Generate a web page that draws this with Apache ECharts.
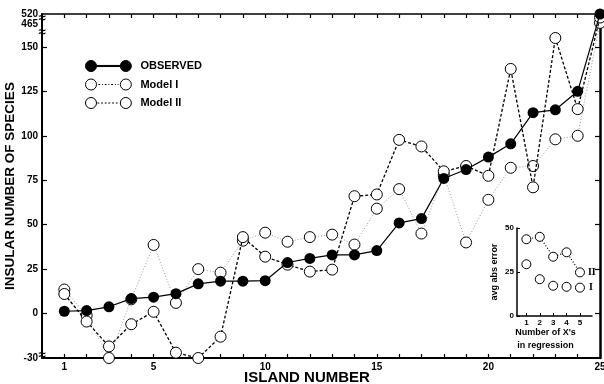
<!DOCTYPE html>
<html>
<head>
<meta charset="utf-8">
<script src="https://cdn.jsdelivr.net/npm/echarts@6/dist/echarts.min.js"></script>
<style>
  html, body { margin: 0; padding: 0; background: #fff; }
  #chart { width: 604px; height: 384px; }
</style>
</head>
<body>
<div id="chart"></div>
<script>
// data
const islands = [1,2,3,4,5,6,7,8,9,10,11,12,13,14,15,16,17,18,19,20,21,22,23,24,25];
const observed = [1.3, 1.7, 3.8, 8.4, 9.2, 11.2, 16.7, 18.2, 18.2, 18.5, 28.7, 31, 33, 33, 35.4, 51, 53.4, 76, 81, 88, 95.5, 113, 114.6, 125, 520];
const modelI = [13.5, -1, -30, 8, 38.6, 6, 25, 23, 41, 45.5, 40.4, 43, 44.4, 38.8, 59, 70, 45, 78, 40, 64, 82, 83, 98, 100, 470];
const modelII = [11, -4.5, -18.5, -6, 1, -22, -30, -13, 43, 32, 27.5, 23.6, 24.7, 66, 67, 97.7, 94, 80, 83, 77.5, 137.6, 71, 155, 115, 500];

const yTickLabels = [-30, 0, 25, 50, 75, 100, 125, 150, 465];
const yTopLabel = 520;
const xTickLabels = [1, 5, 10, 15, 20, 25];

// inset: avg abs error vs number of X's in regression
const insetX = [1, 2, 3, 4, 5];
const insetModelI = [29.4, 20.9, 17.2, 16.6, 16.1];
const insetModelII = [43.6, 45, 33.7, 36.2, 24.8];
const insetYTicks = [0, 25, 50];

// broken axis: -30 sits on the bottom, 465..520 squeezed above 150
function toAxis(v) {
    if (v <= -25) return -25;
    if (v >= 465) return 163 + (v - 465) * 0.1;
    return v;
}
const yTickPos = yTickLabels.map(toAxis);
function yLabel(p) {
    const i = yTickPos.findIndex(q => Math.abs(q - p) < 0.01);
    return i < 0 ? '' : String(yTickLabels[i]);
}

const FONT = 'Liberation Sans';
const pairs = arr => arr.map((v, i) => [islands[i], toAxis(v)]);

const ring = 'M0,6a6,6 0 1,0 12,0a6,6 0 1,0 -12,0Z M38,6a6,6 0 1,0 12,0a6,6 0 1,0 -12,0Z';
const iconObs = 'path://' + ring + ' M12,5.4h26v1.2h-26Z';
const iconM1 = 'path://' + ring + ' M14,6h2M18,6h1M21,6h2M25,6h1M28,6h2M32,6h1M35,6h1';
const iconM2 = 'path://' + ring + ' M13,6h2M17,6h2M21,6h2M25,6h2M29,6h2M33,6h2';

const chart = echarts.init(document.getElementById('chart'));

const labelStyle = { fontSize: 10, fontWeight: 'bold', margin: 4, color: '#000' };

chart.setOption({
    animation: false,
    backgroundColor: '#fff',
    textStyle: { fontFamily: FONT, color: '#000' },
    grid: [
        { left: 42, right: 4, top: 14, bottom: 26, outerBoundsMode: 'none' },
        { left: 517, top: 228, width: 75, height: 88, outerBoundsMode: 'none' }
    ],
    legend: {
        left: 80, top: 55, orient: 'vertical',
        itemWidth: 46, itemHeight: 11, itemGap: 6.5,
        selectedMode: false,
        textStyle: { fontFamily: FONT, fontWeight: 'bold', fontSize: 11, color: '#000', padding: [0, 0, 0, 4] },
        data: [
            { name: 'OBSERVED', icon: iconObs, itemStyle: { color: '#000', borderColor: '#000', borderWidth: 1 } },
            { name: 'Model I', icon: iconM1, itemStyle: { color: '#fff', borderColor: '#000', borderWidth: 1 } },
            { name: 'Model II', icon: iconM2, itemStyle: { color: '#fff', borderColor: '#000', borderWidth: 1 } }
        ]
    },
    xAxis: [
        {
            type: 'value', gridIndex: 0, min: 0, max: 25,
            name: 'ISLAND NUMBER', nameLocation: 'middle', nameGap: 12, nameMoveOverlap: false,
            nameTextStyle: { fontWeight: 'bold', fontSize: 15, padding: [0, 28, 0, 0] },
            axisLine: { onZero: false, lineStyle: { color: '#000', width: 2 } },
            axisTick: { inside: true, length: 4, customValues: islands, lineStyle: { color: '#000', width: 1.2 } },
            axisLabel: Object.assign({ customValues: xTickLabels }, labelStyle),
            splitLine: { show: false }
        },
        {
            type: 'value', gridIndex: 0, min: 0, max: 25, position: 'top',
            axisLine: { onZero: false, lineStyle: { color: '#000', width: 1.5 } },
            axisTick: { inside: true, length: 4, customValues: islands, lineStyle: { color: '#000', width: 1.2 } },
            axisLabel: { show: false },
            splitLine: { show: false }
        },
        {
            type: 'value', gridIndex: 1, min: 0.3, max: 5.9,
            name: "Number of X's\nin regression", nameLocation: 'middle', nameGap: 10, nameMoveOverlap: false,
            nameTextStyle: { fontWeight: 'bold', fontSize: 9, lineHeight: 13, padding: [0, 18, 0, 0] },
            axisLine: { onZero: false, lineStyle: { color: '#000', width: 1.5 } },
            axisTick: { inside: true, length: 3, customValues: insetX, lineStyle: { color: '#000' } },
            axisLabel: { customValues: insetX, fontSize: 8, fontWeight: 'bold', margin: 3, color: '#000' },
            splitLine: { show: false }
        }
    ],
    yAxis: [
        {
            type: 'value', gridIndex: 0, min: -25, max: 168.5,
            name: 'INSULAR NUMBER OF SPECIES', nameLocation: 'middle', nameGap: 25, nameRotate: 90, nameMoveOverlap: false,
            nameTextStyle: { fontWeight: 'bold', fontSize: 13.5 },
            axisLine: { onZero: false, lineStyle: { color: '#000', width: 2 } },
            axisTick: { inside: true, length: 5, customValues: yTickPos.slice(1, 8), lineStyle: { color: '#000', width: 1.2 } },
            axisLabel: Object.assign({ customValues: yTickPos, formatter: yLabel, showMinLabel: true, showMaxLabel: true }, labelStyle),
            splitLine: { show: false }
        },
        {
            type: 'value', gridIndex: 0, min: -25, max: 168.5, position: 'right',
            axisLine: { onZero: false, lineStyle: { color: '#000', width: 2.5 } },
            axisTick: { inside: true, length: 5, customValues: yTickPos.slice(1, 8), lineStyle: { color: '#000', width: 1.2 } },
            axisLabel: { show: false },
            splitLine: { show: false }
        },
        {
            type: 'value', gridIndex: 1, min: 0, max: 50,
            name: 'avg abs error', nameLocation: 'middle', nameGap: 18, nameRotate: 90, nameMoveOverlap: false,
            nameTextStyle: { fontWeight: 'bold', fontSize: 9 },
            axisLine: { onZero: false, lineStyle: { color: '#000', width: 1.5 } },
            axisTick: { inside: true, length: 3, customValues: insetYTicks, lineStyle: { color: '#000' } },
            axisLabel: { customValues: insetYTicks, fontSize: 8, fontWeight: 'bold', margin: 3, color: '#000' },
            splitLine: { show: false }
        },
        {
            // carries only the top "520" label, which would otherwise collide with 465
            type: 'value', gridIndex: 0, min: -25, max: 168.5, position: 'left',
            axisLine: { show: false }, axisTick: { show: false },
            axisLabel: Object.assign({ customValues: [toAxis(yTopLabel)], formatter: () => String(yTopLabel), showMaxLabel: true }, labelStyle),
            splitLine: { show: false }
        }
    ],
    series: [
        {
            name: 'Model I', type: 'line', xAxisIndex: 0, yAxisIndex: 0,
            data: pairs(modelI), clip: false,
            symbol: 'circle', symbolSize: 11,
            itemStyle: { color: '#fff', borderColor: '#000', borderWidth: 1 },
            lineStyle: { color: '#999', width: 1, type: [1, 2] },
            z: 2
        },
        {
            name: 'Model II', type: 'line', xAxisIndex: 0, yAxisIndex: 0,
            data: pairs(modelII), clip: false,
            symbol: 'circle', symbolSize: 11,
            itemStyle: { color: '#fff', borderColor: '#000', borderWidth: 1 },
            lineStyle: { color: '#000', width: 1.3, type: [3, 2] },
            z: 3
        },
        {
            name: 'OBSERVED', type: 'line', xAxisIndex: 0, yAxisIndex: 0,
            data: pairs(observed), clip: false,
            symbol: 'circle', symbolSize: 11,
            itemStyle: { color: '#000' },
            lineStyle: { color: '#000', width: 1.2 },
            z: 4
        },
        {
            name: 'inset I', type: 'line', xAxisIndex: 2, yAxisIndex: 2,
            data: insetModelI.map((v, i) => [insetX[i], v]), clip: false,
            symbol: 'circle', symbolSize: 9,
            itemStyle: { color: '#fff', borderColor: '#000', borderWidth: 1 },
            lineStyle: { width: 0 },
            label: {
                show: true, position: 'right', distance: 4,
                formatter: p => p.dataIndex === insetX.length - 1 ? 'I' : '',
                fontFamily: 'Liberation Serif', fontWeight: 'bold', fontSize: 10, color: '#000'
            }
        },
        {
            name: 'inset II', type: 'line', xAxisIndex: 2, yAxisIndex: 2,
            data: insetModelII.map((v, i) => [insetX[i], v]), clip: false,
            symbol: 'circle', symbolSize: 9,
            itemStyle: { color: '#fff', borderColor: '#000', borderWidth: 1 },
            lineStyle: { color: '#000', width: 1.2, type: [1, 2] },
            label: {
                show: true, position: 'right', distance: 3,
                formatter: p => p.dataIndex === insetX.length - 1 ? 'II' : '',
                fontFamily: 'Liberation Serif', fontWeight: 'bold', fontSize: 10, color: '#000'
            }
        }
    ]
});

// break marks on the y axis
const ax = chart.convertToPixel({ xAxisIndex: 0 }, 0);
const breaks = [158, 165.8, -23.5].map(v => chart.convertToPixel({ yAxisIndex: 0 }, v));
chart.setOption({
    graphic: breaks.map(y => ({
        type: 'text', x: ax, y: y,
        style: { text: '≈', font: 'bold 13px ' + FONT, fill: '#000', align: 'center', verticalAlign: 'middle', backgroundColor: '#fff' }
    }))
});

window.addEventListener('resize', () => {
    chart.resize();
});
</script>
</body>
</html>
